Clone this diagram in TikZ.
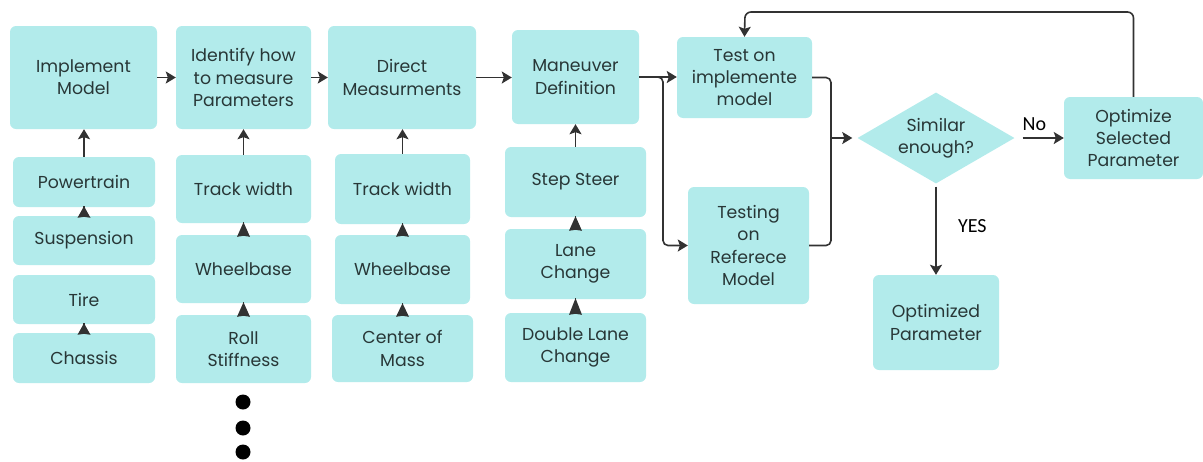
\documentclass[tikz,border=0pt]{standalone}
\usepackage{fontspec}
\setmainfont{Poppins}
\newfontfamily\labelfont{Carlito}
\usetikzlibrary{shapes.geometric,arrows.meta,calc}
\definecolor{boxfill}{RGB}{178,235,235}
\definecolor{ink}{RGB}{40,55,55}
\definecolor{wire}{RGB}{50,50,50}
\tikzset{
  box/.style={rectangle, rounded corners=6pt, fill=boxfill, text=ink, align=center,
    inner sep=2pt, font=\fontsize{17.3}{22.3}\selectfont},
  sz/.style 2 args={minimum width=#1pt, minimum height=#2pt},
  decision/.style={diamond, fill=boxfill, text=ink, align=center, inner sep=0pt,
    aspect=1.72, minimum width=157pt, minimum height=91pt, font=\fontsize{17.3}{22.3}\selectfont},
  wireline/.style={draw=wire, line width=1.6pt},
  flow/.style={wireline, arrows={-Stealth[length=10pt 0, width=12pt 0, inset=2pt 0]}},
  stub/.style={draw=none, fill=wire},
  dot/.style={circle, fill=black, minimum size=15pt, inner sep=0pt},
  answer/.style={font=\labelfont\fontsize{20}{23}\selectfont, text=black},
}
% a short up-pointing head sitting in the gap between two stacked boxes
\newcommand\stubhead[2]{%
  \fill[stub] ($(#1.north)+(0,1)$) -- ++(-6.5,1) -- ($(#2.south)+(0,-1)$) -- ($(#1.north)+(6.5,2)$) -- cycle;
  \draw[wireline] ($(#1.north)+(0,1)$) -- ($(#2.south)+(0,-1)$);}
\begin{document}
\begin{tikzpicture}[x=1pt, y=-1pt]
\useasboundingbox (0,0) rectangle (1203,461);

% input models
\node[box, sz={147}{103}] (impl) at (83.5,77.5) {Implement\\Model};
\node[box, sz={142}{50}] (power) at (84,182) {Powertrain};
\node[box, sz={142}{49}] (susp) at (84,240.5) {Suspension};
\node[box, sz={142}{49}] (tire) at (84,299.5) {Tire};
\node[box, sz={142}{50}] (chassis) at (84,358) {Chassis};

% parameters to measure
\node[box, sz={135}{103}] (ident) at (243.5,77.5) {Identify how\\to measure\\Parameters};
\node[box, sz={135}{68}] (track1) at (243.5,189) {Track width};
\node[box, sz={135}{68}] (wheel1) at (243.5,269) {Wheelbase};
\node[box, sz={135}{68}] (roll) at (243.5,349) {Roll\\Stiffness};
\node[dot] (d1) at (243,402) {};
\node[dot] (d2) at (243,428) {};
\node[dot] (d3) at (243,452) {};

% direct measurements
\node[box, sz={148}{103}] (direct) at (402,77.5) {Direct\\Measurments};
\node[box, sz={135}{70}] (track2) at (402.5,189) {Track width};
\node[box, sz={135}{69}] (wheel2) at (402.5,269.5) {Wheelbase};
\node[box, sz={141}{67}] (com) at (402.5,348.5) {Center of\\Mass};

% maneuvers
\node[box, sz={127}{94}] (man) at (575.5,77) {Maneuver\\Definition};
\node[box, sz={141}{70}] (step) at (575.5,182) {Step Steer};
\node[box, sz={141}{70}] (lane) at (575.5,264) {Lane\\Change};
\node[box, sz={141}{69}] (dlc) at (575.5,347.5) {Double Lane\\Change};

% tests and optimisation loop
\node[box, sz={135}{81}] (test) at (744.5,77.5) {Test on\\implemente\\model};
\node[box, sz={121}{117}] (testing) at (748.5,245.5) {Testing\\on\\Referece\\Model};
\node[decision] (sim) at (936,138) {Similar\\enough?};
\node[box, sz={126}{95}] (optp) at (936,322.5) {Optimized\\Parameter};
\node[box, sz={139}{82}] (opts) at (1133.5,138) {Optimize\\Selected\\Parameter};

% main chain
\draw[flow] (impl.east) -- (ident.west);
\draw[flow] (ident.east) -- (direct.west);
\draw[flow] (direct.east) -- (direct.east -| man.west);
\draw[flow] (man.east) -- (man.east -| test.west);
\coordinate (split) at (663,77);
\draw[flow, rounded corners=5pt] (man.east) -- (split) |- (testing.west);
\coordinate (merge) at (831,138);
\draw[wireline, rounded corners=5pt] (test.east) -| (merge);
\draw[wireline, rounded corners=5pt] (testing.east) -| (merge);
\draw[flow, shorten >=5pt] (merge) -- (sim.west);
\draw[flow, shorten <=8pt] (sim.east) -- node[answer, pos=0.4, above, yshift=3pt] {No} (opts.west);
\draw[flow, shorten <=3pt] (sim.south) -- node[answer, pos=0.47, anchor=west, xshift=18pt] {YES} (optp.north);
\coordinate (loopy) at (745,12);
\draw[flow, rounded corners=6pt] (opts.north) |- (loopy) -- (test.north);

% feeds into the column heads
\draw[flow] (power.north) -- (power.north |- impl.south);
\draw[flow] (track1.north) -- (ident.south);
\draw[flow] (track2.north) -- (track2.north |- direct.south);
\draw[flow] (step.north) -- (man.south);

% links inside the columns
\stubhead{susp}{power}
\stubhead{chassis}{tire}
\stubhead{wheel1}{track1}
\stubhead{roll}{wheel1}
\stubhead{wheel2}{track2}
\stubhead{com}{wheel2}
\stubhead{lane}{step}
\stubhead{dlc}{lane}
\end{tikzpicture}
\end{document}
